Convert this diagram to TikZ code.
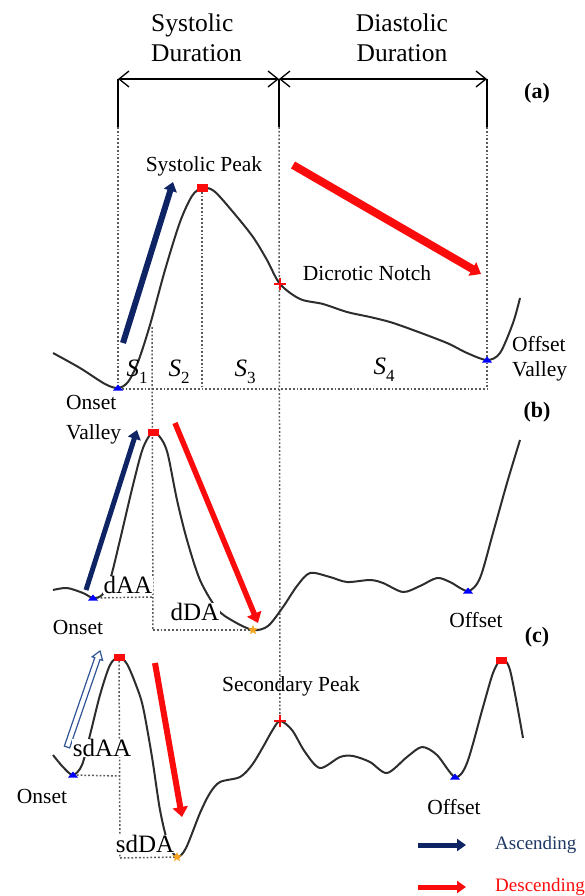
\documentclass[tikz,border=0pt]{standalone}
\usepackage{fontspec}
\setmainfont{Liberation Serif}
\usetikzlibrary{arrows.meta,shapes.geometric,calc}
\definecolor{navyA}{RGB}{14,36,100}
\definecolor{redA}{RGB}{250,12,12}
\definecolor{waveC}{RGB}{45,45,45}
\definecolor{dotg}{RGB}{90,90,90}
\definecolor{txtnavy}{RGB}{31,56,100}
\definecolor{lblue}{RGB}{47,85,151}
\definecolor{orangeA}{RGB}{245,165,30}
\newcommand{\segl}[1]{\textit{S}\raisebox{-0.28em}{\fontsize{17}{17}\selectfont #1}}
\begin{document}
\begin{tikzpicture}[x=1pt,y=-1pt,
  wave/.style={draw=waveC, line width=2pt, line join=round},
  guide/.style={draw=dotg, line width=1.5pt, dash pattern=on 1.8pt off 2pt},
  bar/.style={draw=black, line width=1.3pt},
  span/.style={draw=black, line width=1.3pt, {Straight Barb[length=10pt,width=16pt]}-{Straight Barb[length=10pt,width=16pt]}},
  lbl/.style={font=\fontsize{21.5}{25}\selectfont, inner sep=0pt},
  head/.style={font=\fontsize{25.5}{30}\selectfont, inner sep=0pt},
  amp/.style={font=\fontsize{25}{30}\selectfont, inner sep=0.5pt, fill=white},
  seg/.style={font=\fontsize{25}{28}\selectfont, inner sep=0pt},
  tag/.style={font=\bfseries\fontsize{22}{26}\selectfont, inner sep=0pt},
  leg/.style={font=\fontsize{19}{22}\selectfont, inner sep=0pt, anchor=west},
  ascA/.style={draw=navyA, line width=#1, -{Triangle[length=9pt,width=13pt]}},
  desA/.style={draw=redA, line width=#1, -{Triangle[length=10pt,width=15pt]}},
  pk/.style={fill=redA, minimum width=11pt, minimum height=7pt, inner sep=0pt},
  trough/.style={star, star points=5, star point ratio=2.2, fill=orangeA, inner sep=0pt, minimum size=10pt},
]
\useasboundingbox (0,0) rectangle (585,896);

% ---------- header ----------
\node[head, anchor=west, align=left] (sysdur) at (151,38) {Systolic\\Duration};
\node[head, align=center] (diadur) at (402,38) {Diastolic\\Duration};
\coordinate (tL) at (118,79);
\coordinate (tM) at (279,79);
\coordinate (tR) at (487,79);
\coordinate (bL) at (118,127);
\coordinate (bM) at (279,127);
\coordinate (bR) at (487,127);
\draw[bar] (tL) -- (bL);
\draw[bar] (tM) -- (bM);
\draw[bar] (tR) -- (bR);
\draw[span] (tL) -- (tM);
\draw[span] (tM) -- (tR);
\node[tag] (taga) at (537,93) {(a)};
\node[tag] (tagb) at (537,412) {(b)};
\node[tag] (tagc) at (537,637) {(c)};

% ---------- key points ----------
\coordinate (aOn) at (118,388);
\coordinate (aPk) at (202,188);
\coordinate (aDn) at (280,284);
\coordinate (aOff) at (487,360);
\coordinate (aS12) at (152,327);
\coordinate (bOn) at (93,598);
\coordinate (bPk) at (153,432);
\coordinate (bTr) at (253,630);
\coordinate (bOff) at (468,591);
\coordinate (cOn) at (73,775);
\coordinate (cPk) at (119,657);
\coordinate (cTr) at (177,857);
\coordinate (cSp) at (280,721);
\coordinate (cOff) at (455,777);
\coordinate (cPk2) at (501,660);

% ---------- guide lines ----------
\coordinate (gA) at (118,389);
\coordinate (gC) at (202,389);
\coordinate (gE) at (487,389);
\draw[guide] (bL) -- (gA);
\draw[guide] (bR) -- (gE);
\draw[guide] (gA) -- (gE);
\draw[guide] (aPk) -- (gC);
\draw[guide] (bM) -- (cSp);
\coordinate (bBase) at (153,630);
\coordinate (bOnR) at (153,597);
\draw[guide] (aS12) -- (bBase);
\draw[guide] (bOn) -- (bOnR);
\draw[guide] (bBase) -- (bTr);
\coordinate (cBase) at (120,858);
\coordinate (cOnR) at (120,776);
\draw[guide] (cPk) -- (cBase);
\draw[guide] (cOn) -- (cOnR);
\draw[guide] (cBase) -- (cTr);

% ---------- waveforms ----------
\draw[wave] plot[smooth] coordinates {(53,353) (80,368) (105,384) (118,388) (128,382) (138,362) (150,325) (165,270) (180,222) (192,196) (202,188) (214,191) (233,212) (253,237) (267,260) (280,284) (300,299) (323,304) (347,312) (370,317) (390,322) (413,330) (447,343) (467,353) (487,360) (500,353) (513,323) (520,298)};
\draw[wave] plot[smooth] coordinates {(53,590) (67,588) (83,593) (93,598) (102,595) (110,580) (120,540) (133,485) (143,448) (153,432) (162,440) (168,455) (177,500) (187,540) (200,580) (217,609) (233,621) (253,630) (268,626) (283,607) (297,586) (310,573) (330,577) (347,582) (370,580) (383,583) (403,592) (420,586) (437,578) (450,582) (468,591) (480,578) (493,533) (507,483) (520,440)};
\draw[wave] plot[smooth] coordinates {(53,755) (63,767) (73,775) (82,765) (90,735) (100,695) (110,665) (119,657) (127,664) (136,685) (143,707) (152,757) (160,810) (168,843) (177,857) (186,848) (200,813) (210,793) (220,782) (240,777) (252,765) (263,747) (272,731) (280,721) (292,730) (305,752) (320,768) (340,757) (353,756) (370,762) (387,773) (407,757) (422,747) (437,755) (455,777) (467,763) (483,707) (493,673) (501,660) (510,670) (523,738)};

% ---------- markers ----------
\foreach \p in {aOn,aOff,bOn,bOff,cOn,cOff}{
  \fill[blue] ($(\p)+(-5,2.5)$) -- ($(\p)+(5,2.5)$) -- ($(\p)+(0,-3.5)$) -- cycle;
}
\node[pk] (mk1) at (aPk) {};
\node[pk] (mk2) at (bPk) {};
\node[pk] (mk3) at (cPk) {};
\node[pk] (mk4) at (cPk2) {};
\foreach \p in {aDn,cSp}{
  \draw[redA, line width=1.8pt] ($(\p)+(-6,0)$) -- ($(\p)+(6,0)$) ($(\p)+(0,-6)$) -- ($(\p)+(0,6)$);
}
\node[trough] (st1) at (bTr) {};
\node[trough] (st2) at (cTr) {};

% ---------- trend arrows ----------
\coordinate (aA1) at (123,343); \coordinate (aA2) at (173,182);
\draw[ascA=6pt] (aA1) -- (aA2);
\coordinate (aD1) at (293,165); \coordinate (aD2) at (481,274);
\draw[desA=8pt] (aD1) -- (aD2);
\coordinate (bA1) at (86,590); \coordinate (bA2) at (137,430);
\draw[ascA=5pt] (bA1) -- (bA2);
\coordinate (bD1) at (175,423); \coordinate (bD2) at (258,623);
\draw[desA=5.5pt] (bD1) -- (bD2);
\coordinate (cs) at (67,747); \coordinate (ce) at (100,651);
\coordinate (ch) at ($(ce)!8pt!(cs)$);
\draw[lblue, line width=1.2pt, fill=white, line join=miter]
  ($(cs)!2.8pt!90:(ce)$) -- ($(ch)!2.8pt!-90:(cs)$) -- ($(ch)!5.5pt!-90:(cs)$) -- (ce)
  -- ($(ch)!5.5pt!90:(cs)$) -- ($(ch)!2.8pt!90:(cs)$) -- ($(cs)!2.8pt!-90:(ce)$) -- cycle;
\coordinate (cD1) at (155,663); \coordinate (cD2) at (182,817);
\draw[desA=6pt] (cD1) -- (cD2);

% ---------- labels ----------
\node[lbl] (lsp) at (204,166) {Systolic Peak};
\node[lbl] (ldn) at (367,273) {Dicrotic Notch};
\node[lbl, anchor=west, align=left] (loffa) at (512,359) {Offset\\Valley};
\node[lbl, anchor=west, align=left, font=\fontsize{21.5}{30}\selectfont] (lona) at (66,420) {Onset\\Valley};
\node[seg] (s1) at (137,372) {\segl{1}};
\node[seg] (s2) at (179,372) {\segl{2}};
\node[seg] (s3) at (245,372) {\segl{3}};
\node[seg] (s4) at (384,370) {\segl{4}};
\node[lbl] (lonb) at (78,627) {Onset};
\node[lbl] (loffb) at (476,620) {Offset};
\node[amp] (daa) at (128,585) {dAA};
\node[amp] (dda) at (195,612) {dDA};
\node[lbl] (lsec) at (291,686) {Secondary Peak};
\node[lbl] (lonc) at (42,796) {Onset};
\node[lbl] (loffc) at (454,807) {Offset};
\node[amp] (sdaa) at (102,748) {sdAA};
\node[amp] (sdda) at (145,844) {sdDA};

% ---------- legend ----------
\coordinate (lg1) at (418,845); \coordinate (lg2) at (466,845);
\draw[draw=navyA, line width=5pt, -{Triangle[length=9pt,width=12pt]}] (lg1) -- (lg2);
\node[leg, text=txtnavy] (lasc) at (495,845) {Ascending};
\coordinate (lg3) at (418,887); \coordinate (lg4) at (466,887);
\draw[draw=redA, line width=5pt, -{Triangle[length=9pt,width=12pt]}] (lg3) -- (lg4);
\node[leg, text=redA] (ldes) at (495,887) {Descending};
\end{tikzpicture}
\end{document}
